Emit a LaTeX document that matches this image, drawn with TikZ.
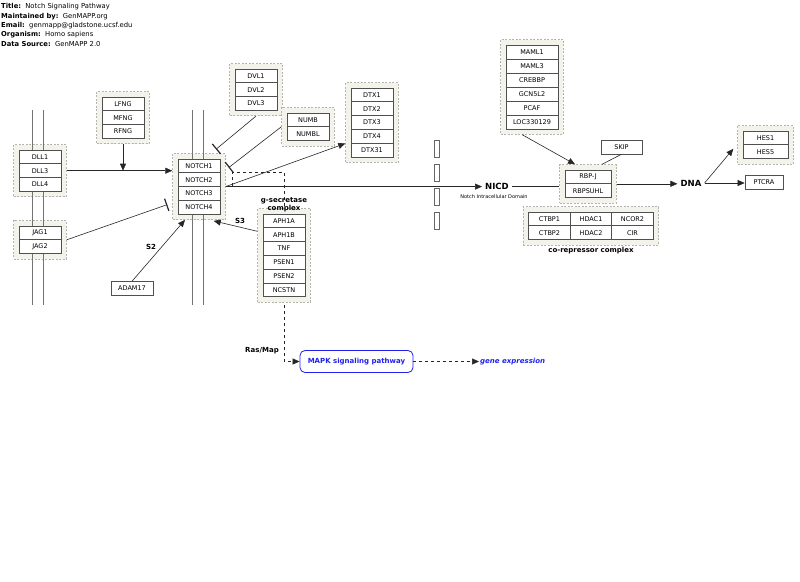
\documentclass[tikz,border=0pt]{standalone}
\usepackage{fontspec}
\setmainfont{DejaVu Sans}
\usepackage{tikz}
\usetikzlibrary{arrows.meta,calc,fit,backgrounds,positioning}

\definecolor{grpfill}{HTML}{F4F3EB}
\definecolor{grpline}{HTML}{B4B4AC}
\definecolor{boxline}{HTML}{505050}
\definecolor{mapkblue}{HTML}{2020F0}

\tikzset{
 gene/.style={draw=boxline, fill=white, line width=0.7pt, minimum width=42pt, minimum height=13.8pt, inner sep=0pt, font=\fontsize{6.5}{7}\selectfont},
 grp/.style={draw=grpline, dash pattern=on 2pt off 1.5pt, fill=grpfill, inner sep=5pt, line width=0.7pt},
 membrane/.style={draw=black!55, line width=0.7pt},
 conn/.style={draw=black!85, line width=0.6pt},
 arr/.style={conn, -{Triangle[length=7pt,width=6pt]}},
 inh/.style={conn, -{Bar[width=13pt,line width=1.2pt]}},
 lbl/.style={font=\bfseries\fontsize{7}{8}\selectfont, inner sep=1pt},
}

\begin{document}
\begin{tikzpicture}[x=1pt, y=-1pt]
\useasboundingbox (0,0) rectangle (800,581);

% Header
\foreach \n/\k/\v/\y in {title/Title:/Notch Signaling Pathway/7,
 maint/Maintained by:/GenMAPP.org/16.5,
 email/Email:/genmapp@gladstone.ucsf.edu/26,
 organism/Organism:/Homo sapiens/35,
 source/Data Source:/GenMAPP 2.0/44} {
 \node[anchor=west, inner sep=0pt, font=\fontsize{6.8}{7}\selectfont] (\n) at (1,\y) {\textbf{\k}\ \ \v};
}

% Membranes
\foreach \x in {32,43,192,203} {
 \draw[membrane] (\x,110) -- (\x,305);
}

% Nuclear pores
\foreach \y in {140,164,188,212} {
 \draw[draw=black!60, line width=0.6pt] (434,\y) rectangle (439,{\y+17});
}

% Gene boxes
\foreach \g [count=\i] in {LFNG,MFNG,RFNG}
 \node[gene] (\g) at (123,{97+13.8*(\i-0.5)}) {\g};
\foreach \g [count=\i] in {DLL1,DLL3,DLL4}
 \node[gene] (\g) at (40,{150+13.8*(\i-0.5)}) {\g};
\foreach \g [count=\i] in {JAG1,JAG2}
 \node[gene] (\g) at (40,{226+13.8*(\i-0.5)}) {\g};
\foreach \g [count=\i] in {NOTCH1,NOTCH2,NOTCH3,NOTCH4}
 \node[gene] (\g) at (199,{159+13.8*(\i-0.5)}) {\g};
\foreach \g [count=\i] in {DVL1,DVL2,DVL3}
 \node[gene] (\g) at (256,{69+13.8*(\i-0.5)}) {\g};
\foreach \g [count=\i] in {NUMB,NUMBL}
 \node[gene] (\g) at (308,{113+13.8*(\i-0.5)}) {\g};
\foreach \g [count=\i] in {DTX1,DTX2,DTX3,DTX4,DTX31}
 \node[gene] (\g) at (372,{88+13.8*(\i-0.5)}) {\g};
\foreach \g [count=\i] in {APH1A,APH1B,TNF,PSEN1,PSEN2,NCSTN}
 \node[gene] (\g) at (284,{214+13.8*(\i-0.5)}) {\g};
\foreach \g [count=\i] in {MAML1,MAML3,CREBBP,GCN5L2,PCAF,LOC330129}
 \node[gene, minimum width=52pt] (\g) at (532,{45+14*(\i-0.5)}) {\g};
\foreach \n/\g [count=\i] in {rbpj/RBP-J,rbpsuhl/RBPSUHL}
 \node[gene, minimum width=46pt] (\n) at (588,{170+13.8*(\i-0.5)}) {\g};
\foreach \g/\c/\r in {CTBP1/0/0,HDAC1/1/0,NCOR2/2/0,CTBP2/0/1,HDAC2/1/1,CIR/2/1}
 \node[gene, minimum width=41.5pt] (\g) at ({549.5+41.5*\c},{212+13.8*(\r+0.5)}) {\g};
\foreach \g [count=\i] in {HES1,HES5}
 \node[gene, minimum width=45pt] (\g) at (765.5,{131+13.8*(\i-0.5)}) {\g};
\node[gene, minimum width=41pt] (SKIP) at (621.5,147) {SKIP};
\node[gene, minimum width=38pt] (PTCRA) at (764,182.5) {PTCRA};
\node[gene] (ADAM17) at (132,288.5) {ADAM17};

% Labels
\node[lbl] (s2) at (151,247) {S2};
\node[lbl] (s3) at (240,221) {S3};
\node[lbl, align=center, inner sep=0pt] (gseclbl) at (284,205) {g-secretase\\complex};
\node[lbl] (coreplbl) at (591,250.5) {co-repressor complex};
\node[lbl] (rasmap) at (262,351) {Ras/Map};
\node[font=\bfseries\fontsize{8.5}{9}\selectfont, inner sep=3pt] (nicd) at (497,186.6) {NICD};
\node[font=\fontsize{5}{6}\selectfont, inner sep=0pt] (nicdtxt) at (494,196.5) {Notch Intracellular Domain};
\node[font=\bfseries\fontsize{8.5}{9}\selectfont, inner sep=3pt] (dna) at (691,183) {DNA};
\node[draw=mapkblue, rounded corners=5pt, line width=0.8pt, minimum width=113pt, minimum height=22pt, inner sep=0pt,
 text=mapkblue, font=\bfseries\fontsize{7}{8}\selectfont] (mapk) at (356.5,361.5) {MAPK signaling pathway};
\node[anchor=west, inner sep=1pt, text=mapkblue, font=\bfseries\itshape\fontsize{7}{8}\selectfont] (geneexp) at (479,361.5) {gene expression};

% Groups
\begin{scope}[on background layer]
 \draw[conn, dashed, -{Triangle[length=7pt,width=6pt]}] ($(NOTCH3.north east)+(12,0)$) |- ($(APH1A.north)+(0,-41)$)
  -- (APH1A.north |- mapk.west) -- (mapk.west);
 \node[grp, fit=(LFNG)(RFNG)] (lfnggrp) {};
 \node[grp, fit=(DLL1)(DLL4)] (dllgrp) {};
 \node[grp, fit=(JAG1)(JAG2)] (jaggrp) {};
 \node[grp, fit=(NOTCH1)(NOTCH4)] (notchgrp) {};
 \node[grp, fit=(DVL1)(DVL3)] (dvlgrp) {};
 \node[grp, fit=(NUMB)(NUMBL)] (numbgrp) {};
 \node[grp, fit=(DTX1)(DTX31)] (dtxgrp) {};
 \node[grp, fit=(APH1A)(NCSTN)] (gsecgrp) {};
 \node[grp, fit=(MAML1)(LOC330129)] (mamlgrp) {};
 \node[grp, fit=(rbpj)(rbpsuhl)] (rbpgrp) {};
 \node[grp, fit=(CTBP1)(CIR)] (corepgrp) {};
 \node[grp, fit=(HES1)(HES5)] (hesgrp) {};
\end{scope}

% Connectors
\draw[arr] (dllgrp.east) -- (dllgrp.east -| notchgrp.west);
\draw[arr] (lfnggrp.south) -- (lfnggrp.south |- dllgrp.east);
\draw[inh] (jaggrp.east) -- ($(notchgrp.west)+(-5,18)$);
\draw[arr] (ADAM17.north) -- ($(notchgrp.south)+(-14,0)$);
\draw[arr] ($(gsecgrp.north west)+(0,23)$) -- ($(notchgrp.south east)+(-12,1)$);
\draw[inh] (dvlgrp.south) -- ($(notchgrp.north)+(17,-4)$);
\draw[inh] (numbgrp.west) -- ($(notchgrp.east)+(3,-19)$);
\draw[arr] (notchgrp.east) -- ($(dtxgrp.west)+(0,21)$);
\draw[arr] (notchgrp.east) -- (notchgrp.east -| nicd.west);
\draw[conn] (nicd.east) -- (nicd.east -| rbpgrp.west);
\draw[arr] (rbpgrp.east) -- (rbpgrp.east -| dna.west);
\draw[conn] (SKIP.south) -- ($(rbpgrp.north)+(14,0)$);
\draw[arr] ($(mamlgrp.south)+(-10,0)$) -- ($(rbpgrp.north)+(-13,0)$);
\draw[arr] (dna.east) -- ($(hesgrp.west)+(-4,4)$);
\draw[arr] (dna.east) -- (dna.east -| PTCRA.west);
\draw[arr, dashed] (mapk.east) -- (geneexp.west);
\end{tikzpicture}
\end{document}
